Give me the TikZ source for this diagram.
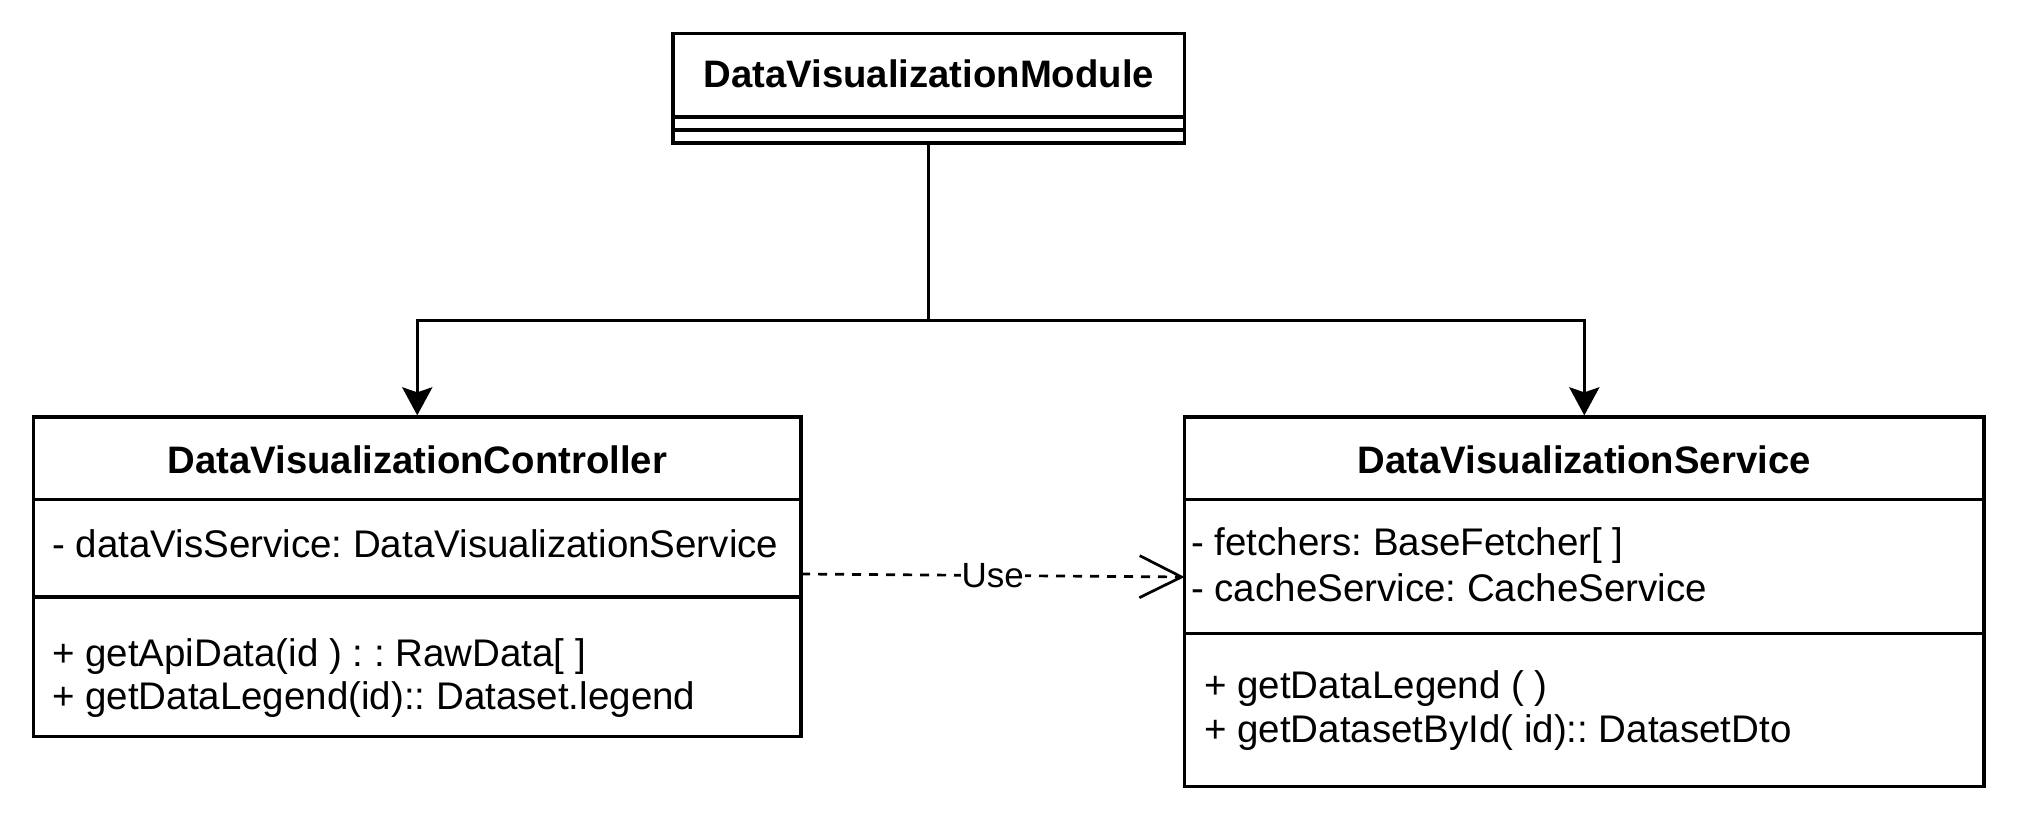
\documentclass[tikz,border=0pt]{standalone}
\usepackage{fontspec}
\setmainfont{Liberation Sans}
\usetikzlibrary{arrows.meta}
\frenchspacing
\begin{document}
\begin{tikzpicture}[x=1pt,y=-1pt,
  box/.style={draw, line width=3.3pt, rectangle, inner sep=0pt},
  sep/.style={line width=3.3pt},
  ttl/.style={font=\fontsize{38.3}{46}\selectfont\bfseries, inner sep=0pt, anchor=base},
  txt/.style={font=\fontsize{38.5}{46}\selectfont, inner sep=0pt, anchor=base west},
  assoc/.style={line width=3.3pt, -{Stealth[length=28pt,width=30pt,inset=5pt]}},
  dep/.style={line width=2.7pt, dash pattern=on 9pt off 8pt, -{Straight Barb[length=42pt,width=42pt]}},
]
\useasboundingbox (0,0) rectangle (2019,832);
\fill[white] (0,0) rectangle (2019,832);

% Module
\node[box, minimum width=511.6pt, minimum height=109.3pt] (mod) at (928.8,88.35) {};
\draw[sep] (mod.west |- 0,117) -- (mod.east |- 0,117);
\draw[sep] (mod.west |- 0,130) -- (mod.east |- 0,130);
\node[ttl] (modt) at (928.8,88) {DataVisualizationModule};

% Controller
\node[box, minimum width=767.5pt, minimum height=319.5pt] (ctrl) at (417.25,576.75) {};
\draw[sep] (ctrl.west |- 0,499.6) -- (ctrl.east |- 0,499.6);
\draw[sep] (ctrl.west |- 0,597) -- (ctrl.east |- 0,597);
\node[ttl] (ctrlt) at (417.25,473) {DataVisualizationController};
\node[txt] (ctrla) at (52,557) {- dataVisService: DataVisualizationService};
\node[txt] (ctrlm1) at (52,666) {+ getApiData(id ) : : RawData[ ]};
\node[txt] (ctrlm2) at (52,709) {+ getDataLegend(id):: Dataset.legend};

% Service
\node[box, minimum width=799.4pt, minimum height=369.7pt] (svc) at (1584.3,601.85) {};
\draw[sep] (svc.west |- 0,499.6) -- (svc.east |- 0,499.6);
\draw[sep] (svc.west |- 0,633.5) -- (svc.east |- 0,633.5);
\node[ttl] (svct) at (1584.3,473) {DataVisualizationService};
\node[txt] (svca1) at (1191,555) {- fetchers: BaseFetcher[ ]};
\node[txt] (svca2) at (1191,601) {- cacheService: CacheService};
\node[txt] (svcm1) at (1204,698) {+ getDataLegend ( )};
\node[txt] (svcm2) at (1204,742) {+ getDatasetById( id):: DatasetDto};

% Connectors
\coordinate (j) at (928.8,320.6);
\draw[sep] (mod.south) -- (j);
\draw[assoc] (j) -| (ctrl.north);
\draw[assoc] (j) -| (svc.north);

\coordinate (u1) at (801,574);
\coordinate (u2) at (1184.6,577);
\draw[dep] (u1) -- node[fill=white, inner sep=1pt, font=\fontsize{35}{42}\selectfont] (use) {Use} (u2);
\end{tikzpicture}
\end{document}
